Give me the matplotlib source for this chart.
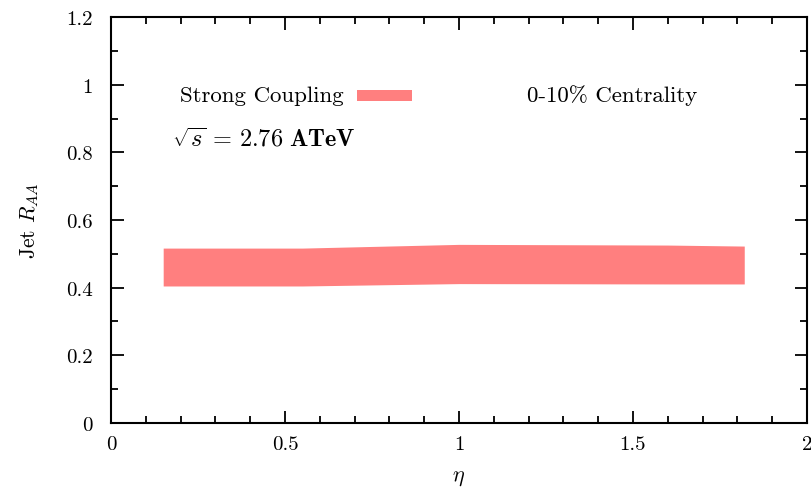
import matplotlib
matplotlib.use("Agg")
import matplotlib.pyplot as plt
from matplotlib.ticker import MultipleLocator

# band of jet R_AA vs eta, strong coupling, 0-10% centrality
eta = [0.15, 0.55, 1.0, 1.6, 1.82]
raa_upper = [0.517, 0.517, 0.528, 0.526, 0.523]
raa_lower = [0.405, 0.405, 0.412, 0.411, 0.411]

x_ticks = [0, 0.5, 1, 1.5, 2]
x_tick_labels = ["0", "0.5", "1", "1.5", "2"]
y_ticks = [0, 0.2, 0.4, 0.6, 0.8, 1.0, 1.2]
y_tick_labels = ["0", "0.2", "0.4", "0.6", "0.8", "1", "1.2"]

band_color = "#ff7f7f"

plt.rcParams["font.family"] = ["cmr10", "DejaVu Serif"]
plt.rcParams["mathtext.fontset"] = "cm"
plt.rcParams["axes.unicode_minus"] = False


def main():
    fig = plt.figure(figsize=(8.12, 4.89), dpi=100)
    ax = fig.add_axes([0.1367, 0.133, 0.857, 0.830])

    ax.fill_between(eta, raa_lower, raa_upper, color=band_color, lw=0)

    ax.set_xlim(0, 2)
    ax.set_ylim(0, 1.2)
    ax.set_xticks(x_ticks)
    ax.set_xticklabels(x_tick_labels)
    ax.set_yticks(y_ticks)
    ax.set_yticklabels(y_tick_labels)
    ax.xaxis.set_minor_locator(MultipleLocator(0.1))
    ax.yaxis.set_minor_locator(MultipleLocator(0.1))
    ax.tick_params(which="both", direction="in", top=True, right=True,
                   labelsize=15, width=1.3)
    ax.tick_params(which="major", length=9)
    ax.tick_params(which="minor", length=5)
    ax.tick_params(axis="x", which="major", pad=9)
    ax.tick_params(axis="y", which="major", pad=13)
    for s in ax.spines.values():
        s.set_linewidth(1.5)

    ax.set_xlabel(r"$\eta$", fontsize=16, labelpad=10)
    ax.set_ylabel(r"Jet $R_{AA}$", fontsize=15.5, labelpad=18)

    # legend-style labels
    ax.text(0.198, 0.97, "Strong Coupling", fontsize=16.5, va="center")
    ax.fill_between([0.707, 0.865], 0.951, 0.985, color=band_color, lw=0)
    ax.text(1.195, 0.97, "0-10% Centrality", fontsize=16.5, va="center")
    ax.text(0.175, 0.84, r"$\sqrt{s}\,=\,\mathbf{2.76\ ATeV}$",
            fontsize=17.5, va="center")

    fig.savefig("out.png", dpi=100)


if __name__ == "__main__":
    main()
